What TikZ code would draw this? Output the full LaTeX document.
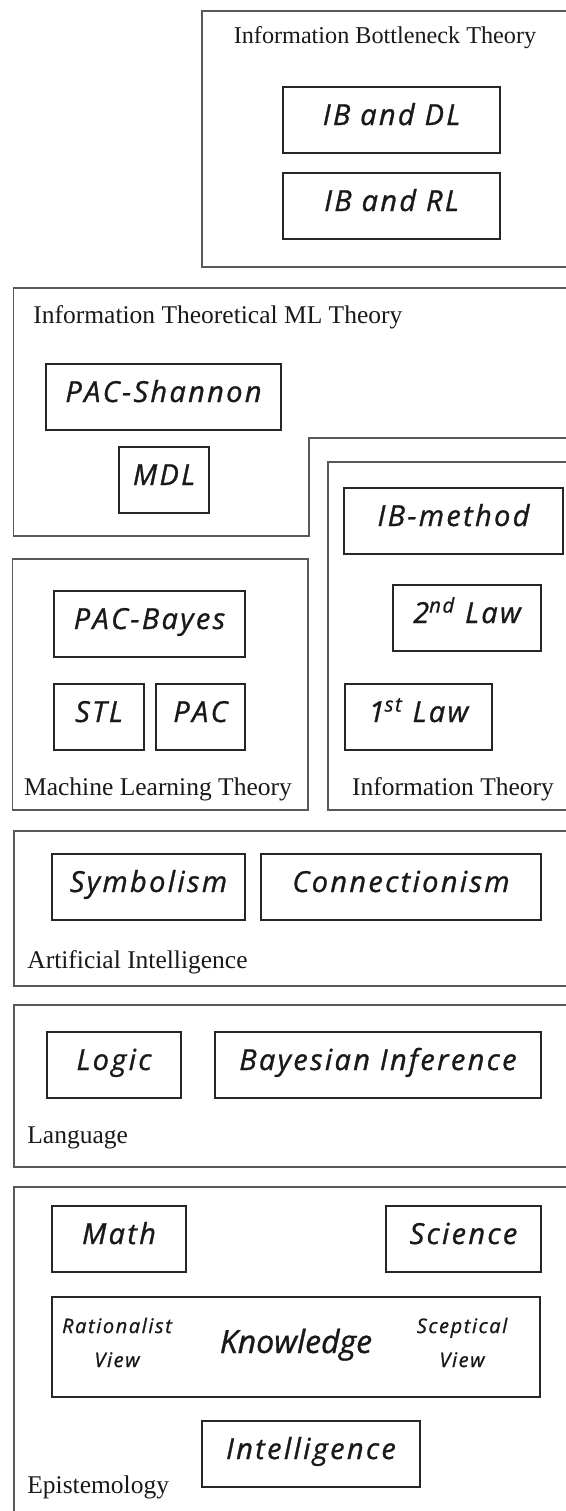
\documentclass[tikz,border=0pt]{standalone}
\usepackage{fontspec}
\setmainfont{Liberation Serif}
\newfontfamily\handfont{Open Sans}[LetterSpace=8, FakeBold=1]
\newfontfamily\handplain{Open Sans}[FakeBold=1]
\begin{document}
\begin{tikzpicture}[x=0.5pt,y=-0.5pt,
  frame/.style={draw=black!65, line width=0.6pt},
  topic/.style={draw=black!85, line width=1pt, inner sep=0pt,
    text height=19pt, text depth=14pt, anchor=north west, text=black!90,
    font=\handfont\itshape\fontsize{14.5}{17}\selectfont},
  small/.style={inner sep=0pt, anchor=base, text=black!90,
    font=\handfont\itshape\fontsize{10}{12}\selectfont},
  title/.style={inner sep=0pt, text=black!90, font=\fontsize{12.75}{15}\selectfont}]
\useasboundingbox (0,0) rectangle (566,1511);
\clip (0,0) rectangle (566,1511);

% group frames (open to the right)
\draw[frame] (202,11) rectangle (590,267);
\draw[frame] (13.5,288) -- (590,288) -- (590,438) -- (309,438) -- (309,536) -- (13.5,536) -- cycle;
\draw[frame] (12.5,559) rectangle (308,810);
\draw[frame] (328,462) rectangle (590,810);
\draw[frame] (14,831) rectangle (590,986);
\draw[frame] (14,1005) rectangle (590,1167);
\draw[frame] (14,1187) rectangle (590,1530);

% group titles
\node[title, anchor=base, font=\fontsize{12.1}{15}\selectfont] (tIB) at (385,43) {Information Bottleneck Theory};
\node[title, anchor=base west] (tITML) at (33,323) {Information Theoretical ML Theory};
\node[title, anchor=base] (tMLT) at (158,795) {Machine Learning Theory};
\node[title, anchor=base] (tIT) at (453,795) {Information Theory};
\node[title, anchor=base west] (tAI) at (27,968) {Artificial Intelligence};
\node[title, anchor=base west] (tLang) at (27,1143) {Language};
\node[title, anchor=base west] (tEpi) at (27,1493) {Epistemology};

% topic boxes
\node[topic, minimum width=108.5pt] (ibdl) at (282,86) {IB and DL};
\node[topic, minimum width=108.5pt] (ibrl) at (282,172) {IB and RL};
\node[topic, minimum width=117.5pt] (pacsh) at (45,363) {PAC-Shannon};
\node[topic, minimum width=45pt] (mdl) at (118,446) {MDL};
\node[topic, minimum width=109.5pt] (ibm) at (343,487) {IB-method};
\node[topic, minimum width=95.5pt] (pacb) at (53,590) {PAC-Bayes};
\node[topic, minimum width=74pt] (law2) at (392,584) {2\textsuperscript{nd} Law};
\node[topic, minimum width=45pt] (stl) at (53,683) {STL};
\node[topic, minimum width=44.5pt] (pac) at (155,683) {PAC};
\node[topic, minimum width=73.5pt] (law1) at (344,683) {1\textsuperscript{st} Law};
\node[topic, minimum width=96.5pt] (sym) at (51,853) {Symbolism};
\node[topic, minimum width=140pt] (con) at (260,853) {Connectionism};
\node[topic, minimum width=67pt] (logic) at (46,1031) {Logic};
\node[topic, minimum width=163pt] (bayes) at (214,1031) {Bayesian Inference};
\node[topic, minimum width=67pt] (math) at (51,1205) {Math};
\node[topic, minimum width=77.5pt] (sci) at (385,1205) {Science};
\node[topic, minimum width=244pt, text height=28pt, text depth=22pt,
  font=\handplain\itshape\fontsize{16}{19}\selectfont] (know) at (51,1296) {Knowledge};
\node[topic, minimum width=109pt] (intel) at (201,1420) {Intelligence};

% views inside the knowledge box
\node[small] (rat1) at (117,1333) {Rationalist};
\node[small] (rat2) at (117,1367) {View};
\node[small] (scep1) at (462,1333) {Sceptical};
\node[small] (scep2) at (462,1367) {View};
\end{tikzpicture}
\end{document}
